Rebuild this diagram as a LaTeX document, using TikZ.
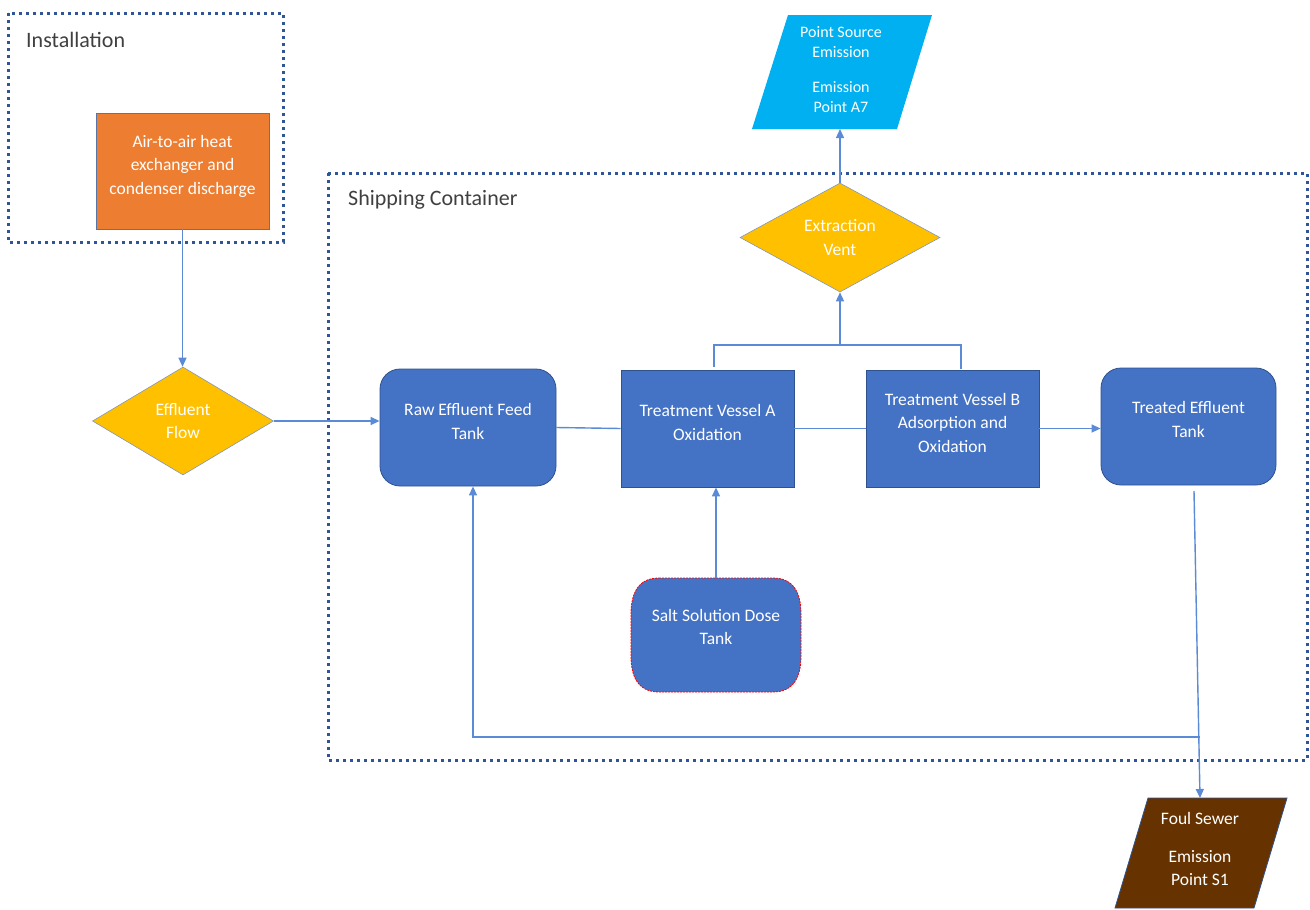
\documentclass[tikz,border=0pt]{standalone}
\usepackage{fontspec}
\setmainfont{Carlito}
\usetikzlibrary{shapes.geometric,arrows.meta}
\definecolor{boxblue}{HTML}{4472C4}
\definecolor{boxedge}{HTML}{2F528F}
\definecolor{linkblue}{HTML}{5B8BD6}
\definecolor{dotblue}{HTML}{2F5597}
\definecolor{orangefill}{HTML}{ED7D31}
\definecolor{goldfill}{HTML}{FFC000}
\definecolor{skyfill}{HTML}{00B0F0}
\definecolor{brownfill}{HTML}{663300}
\definecolor{labelgray}{HTML}{404040}
\begin{document}
\begin{tikzpicture}[x=1pt,y=-1pt,
  every node/.style={font=\fontsize{17.5}{23.5}\selectfont},
  txt/.style={text=white, align=center, inner sep=0pt},
  heading/.style={text=labelgray, anchor=west, inner sep=0pt, font=\fontsize{22}{26}\selectfont},
  region/.style={draw=dotblue, line width=3pt, dash pattern=on 3pt off 4pt},
  procbox/.style={rectangle, fill=boxblue, draw=boxedge, line width=0.8pt, inner sep=0pt},
  tankbox/.style={procbox, rounded corners=20pt},
  decision/.style={diamond, fill=goldfill, draw=boxedge!60, line width=0.6pt, inner sep=0pt},
  link/.style={draw=linkblue, line width=1.4pt},
  flow/.style={link, -{Triangle[length=9pt,width=8pt]}},
]
\useasboundingbox (0,0) rectangle (1310,910);

% regions
\draw[region] (8,13) rectangle (283,242);
\draw[region] (328,173) rectangle (1307,760);
\node[heading] (instT) at (26,40) {Installation};
\node[heading] (shipT) at (348,200) {Shipping Container};

% nodes
\node[procbox, fill=orangefill, draw=boxedge!80, minimum width=173pt, minimum height=116pt,
  label={[txt,yshift=5pt]center:Air-to-air heat\\exchanger and\\condenser discharge}] (hx) at (182.5,171) {};
\node[decision, minimum width=181pt, minimum height=108pt,
  label={[txt]center:Effluent\\Flow}] (eff) at (183,421) {};
\node[tankbox, minimum width=176pt, minimum height=117pt,
  label={[txt,yshift=6pt]center:Raw Effluent Feed\\Tank}] (raw) at (468,427.5) {};
\node[procbox, minimum width=173pt, minimum height=117pt,
  label={[txt,yshift=6pt]center:Treatment Vessel A\\Oxidation}] (A) at (707.5,428.5) {};
\node[procbox, minimum width=173pt, minimum height=117pt,
  label={[txt,yshift=6pt]center:Treatment Vessel B\\Adsorption and\\Oxidation}] (B) at (952.5,428.5) {};
\node[tankbox, minimum width=175pt, minimum height=117pt,
  label={[txt,yshift=7pt]center:Treated Effluent\\Tank}] (tr) at (1188.5,426.5) {};
\node[decision, minimum width=200pt, minimum height=109pt,
  label={[txt]center:Extraction\\Vent}] (vent) at (840,237.5) {};

% salt solution dose tank
\path[fill=boxblue, draw=red, line width=0.8pt, dash pattern=on 2pt off 1pt]
  (659,578) -- (773,578) .. controls (795,578) and (801,595) .. (801,614)
  -- (801,656) .. controls (801,675) and (795,692) .. (773,692)
  -- (659,692) .. controls (637,692) and (631,675) .. (631,656)
  -- (631,614) .. controls (631,595) and (637,578) .. (659,578) -- cycle;
\node[txt, minimum width=170pt, minimum height=114pt] (salt) at (716,635) {};
\node[txt] (saltT) at (716,627) {Salt Solution Dose\\Tank};

% point source emission
\path[fill=skyfill] (788,15) -- (932,15) -- (897,129) -- (752,129) -- cycle;
\node[txt, font=\fontsize{16}{20}\selectfont] (ps) at (841,70) {Point Source\\Emission\\[15pt]Emission\\Point A7};
\coordinate (psb) at (840,129);

% foul sewer
\path[fill=brownfill, draw=boxedge, line width=0.8pt] (1148,798) -- (1287,798) -- (1254,908) -- (1115,908) -- cycle;
\node[txt] (fs) at (1200,849) {Foul Sewer\\[14pt]Emission\\Point S1};
\coordinate (fsb) at (1200,798);

% connectors
\draw[flow] (hx.south) -- (hx.south |- eff.north);
\draw[flow] (eff.east) -- (eff.east -| raw.west);
\draw[link] (raw.east) -- (A.west);
\draw[link] (A.east) -- (B.west);
\draw[flow] (B.east) -- (B.east -| tr.west);
\coordinate (j) at (840,345);
\draw[link] ([xshift=6.5pt,yshift=3pt]A.north) |- (j);
\draw[link] ([xshift=8.5pt,yshift=1pt]B.north) |- (j);
\draw[flow] (j) -- (vent.south);
\draw[flow] (vent.north) -- (psb);
\draw[flow] (salt.north) -- (salt.north |- A.south);
\coordinate (tdrop) at (1194,491);
\draw[flow] (tdrop) -- (fsb);
\coordinate (ret) at (1200,737);
\draw[flow] (ret) -| ([xshift=5pt]raw.south);
\end{tikzpicture}
\end{document}
